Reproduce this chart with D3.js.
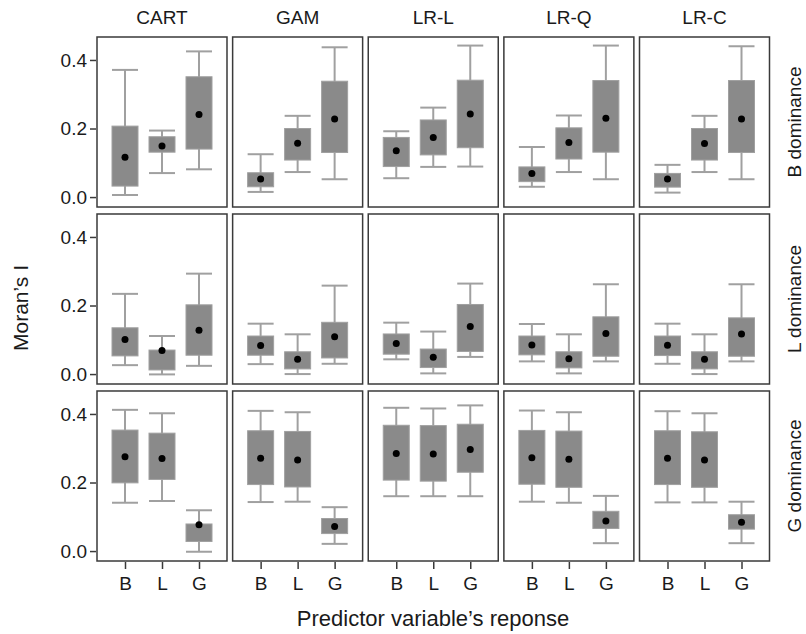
<!DOCTYPE html>
<html>
<head>
  <meta charset="utf-8">
  <title>Moran's I by model and dominance</title>
  <script src="https://d3js.org/d3.v7.min.js"></script>
  <style>
    body { margin: 0; background: #fff; }
    text { font-family: "Liberation Sans", Arial, sans-serif; fill: #1a1a1a; }
  </style>
</head>
<body>
<div id="chart"></div>
<script>
  // panels: columns = models, rows = dominance, boxes = predictor response
  var models = ["CART", "GAM", "LR-L", "LR-Q", "LR-C"];
  var dominance = ["B dominance", "L dominance", "G dominance"];
  var responses = ["B", "L", "G"];
  var yTicks = [0.0, 0.2, 0.4];

  // each stat: [row][model][response]
  var whiskerLow = [
    [[0.006, 0.070, 0.081], [0.015, 0.073, 0.052], [0.055, 0.088, 0.089], [0.030, 0.073, 0.052], [0.013, 0.073, 0.052]],
    [[0.026, -0.001, 0.024], [0.029, 0.000, 0.030], [0.043, 0.002, 0.050], [0.037, 0.002, 0.037], [0.030, 0.000, 0.037]],
    [[0.141, 0.146, -0.002], [0.143, 0.144, 0.021], [0.160, 0.160, 0.160], [0.144, 0.141, 0.023], [0.142, 0.142, 0.023]]
  ];
  var q1 = [
    [[0.032, 0.131, 0.140], [0.030, 0.108, 0.130], [0.089, 0.123, 0.144], [0.045, 0.111, 0.131], [0.029, 0.108, 0.130]],
    [[0.053, 0.012, 0.055], [0.055, 0.015, 0.047], [0.058, 0.019, 0.066], [0.056, 0.018, 0.052], [0.054, 0.015, 0.052]],
    [[0.199, 0.209, 0.028], [0.194, 0.187, 0.051], [0.207, 0.204, 0.230], [0.195, 0.186, 0.066], [0.194, 0.186, 0.064]]
  ];
  var q3 = [
    [[0.207, 0.176, 0.351], [0.071, 0.200, 0.338], [0.174, 0.225, 0.341], [0.088, 0.202, 0.340], [0.069, 0.200, 0.340]],
    [[0.135, 0.070, 0.202], [0.111, 0.065, 0.151], [0.117, 0.073, 0.203], [0.111, 0.065, 0.167], [0.111, 0.065, 0.164]],
    [[0.353, 0.344, 0.079], [0.351, 0.349, 0.095], [0.367, 0.366, 0.370], [0.352, 0.350, 0.116], [0.351, 0.348, 0.106]]
  ];
  var whiskerHigh = [
    [[0.371, 0.194, 0.425], [0.125, 0.237, 0.437], [0.192, 0.261, 0.442], [0.146, 0.238, 0.442], [0.094, 0.237, 0.440]],
    [[0.234, 0.111, 0.293], [0.147, 0.116, 0.258], [0.150, 0.124, 0.264], [0.146, 0.116, 0.262], [0.147, 0.116, 0.262]],
    [[0.412, 0.402, 0.119], [0.409, 0.405, 0.128], [0.418, 0.416, 0.425], [0.410, 0.405, 0.161], [0.408, 0.402, 0.144]]
  ];
  var means = [
    [[0.116, 0.149, 0.241], [0.053, 0.157, 0.228], [0.135, 0.174, 0.242], [0.069, 0.159, 0.230], [0.053, 0.156, 0.228]],
    [[0.101, 0.069, 0.128], [0.083, 0.043, 0.109], [0.089, 0.049, 0.139], [0.085, 0.045, 0.118], [0.084, 0.043, 0.117]],
    [[0.275, 0.270, 0.077], [0.271, 0.266, 0.072], [0.285, 0.283, 0.296], [0.272, 0.268, 0.088], [0.271, 0.266, 0.084]]
  ];

  var width = 806, height = 634;
  var boxW = 26;

  var svg = d3.select("#chart").append("svg")
    .attr("width", width)
    .attr("height", height);

  var col = d3.scaleBand().domain(models).range([97, 769.5]).paddingInner(0.0415);
  var row = d3.scaleBand().domain(dominance).range([37, 561]).paddingInner(0.0395);
  var x = d3.scalePoint().domain(responses).range([28, 102]);
  var y = d3.scaleLinear().domain([-0.029, 0.467]).range([row.bandwidth(), 0]);

  dominance.forEach(function(dom, r) {
    models.forEach(function(m, c) {
      var g = svg.append("g")
        .attr("transform", "translate(" + col(m) + "," + row(dom) + ")");

      var items = responses.map(function(resp, k) {
        return {
          resp: resp,
          lo: whiskerLow[r][c][k], q1: q1[r][c][k], q3: q3[r][c][k],
          hi: whiskerHigh[r][c][k], mean: means[r][c][k]
        };
      });

      var box = g.selectAll(".box").data(items).enter().append("g")
        .attr("transform", function(d) { return "translate(" + x(d.resp) + ",0)"; });

      // whisker stems
      box.append("line")
        .attr("x1", 0).attr("x2", 0)
        .attr("y1", function(d) { return y(d.lo); })
        .attr("y2", function(d) { return y(d.hi); })
        .attr("stroke", "#a0a0a0").attr("stroke-width", 2);
      // caps
      ["lo", "hi"].forEach(function(key) {
        box.append("line")
          .attr("x1", -boxW / 2).attr("x2", boxW / 2)
          .attr("y1", function(d) { return y(d[key]); })
          .attr("y2", function(d) { return y(d[key]); })
          .attr("stroke", "#a0a0a0").attr("stroke-width", 2);
      });
      box.append("rect")
        .attr("x", -boxW / 2).attr("width", boxW)
        .attr("y", function(d) { return y(d.q3); })
        .attr("height", function(d) { return y(d.q1) - y(d.q3); })
        .attr("fill", "#8a8a8a")
        .attr("stroke", "#a0a0a0").attr("stroke-width", 1);
      box.append("circle")
        .attr("cy", function(d) { return y(d.mean); })
        .attr("r", 3.5)
        .attr("fill", "#000");

      g.append("rect")
        .attr("width", col.bandwidth()).attr("height", row.bandwidth())
        .attr("fill", "none")
        .attr("stroke", "#3a3a3a").attr("stroke-width", 1.5);

      if (c === 0) {
        var ya = g.append("g").attr("transform", "translate(-1,0)")
          .call(d3.axisLeft(y).tickValues(yTicks).tickFormat(d3.format(".1f")).tickSize(6).tickPadding(3));
        ya.select(".domain").remove();
        ya.selectAll("line").attr("stroke", "#3a3a3a").attr("stroke-width", 1.5);
        ya.selectAll("text").style("font-size", "19px").attr("fill", "#1a1a1a");
      }
      if (r === dominance.length - 1) {
        var xa = g.append("g").attr("transform", "translate(0," + (row.bandwidth() + 1) + ")")
          .call(d3.axisBottom(x).tickSize(7).tickPadding(8));
        xa.select(".domain").remove();
        xa.selectAll("line").attr("stroke", "#3a3a3a").attr("stroke-width", 1.5);
        xa.selectAll("text").style("font-size", "19px").attr("fill", "#1a1a1a");
      }
    });
  });

  // column headers
  svg.selectAll(".colLabel").data(models).enter().append("text")
    .attr("x", function(d) { return col(d) + col.bandwidth() / 2; })
    .attr("y", 24)
    .attr("text-anchor", "middle")
    .style("font-size", "19px")
    .text(function(d) { return d; });

  // row strips on the right
  svg.selectAll(".rowLabel").data(dominance).enter().append("text")
    .attr("transform", function(d) {
      return "translate(801," + (row(d) + row.bandwidth() / 2) + ") rotate(-90)";
    })
    .attr("text-anchor", "middle")
    .style("font-size", "19px")
    .text(function(d) { return d; });

  svg.append("text")
    .attr("transform", "translate(28,308) rotate(-90)")
    .attr("text-anchor", "middle")
    .style("font-size", "21px")
    .text("Moran\u2019s I");

  svg.append("text")
    .attr("x", 433).attr("y", 626)
    .attr("text-anchor", "middle")
    .style("font-size", "22px")
    .text("Predictor variable\u2019s reponse");
</script>
</body>
</html>
